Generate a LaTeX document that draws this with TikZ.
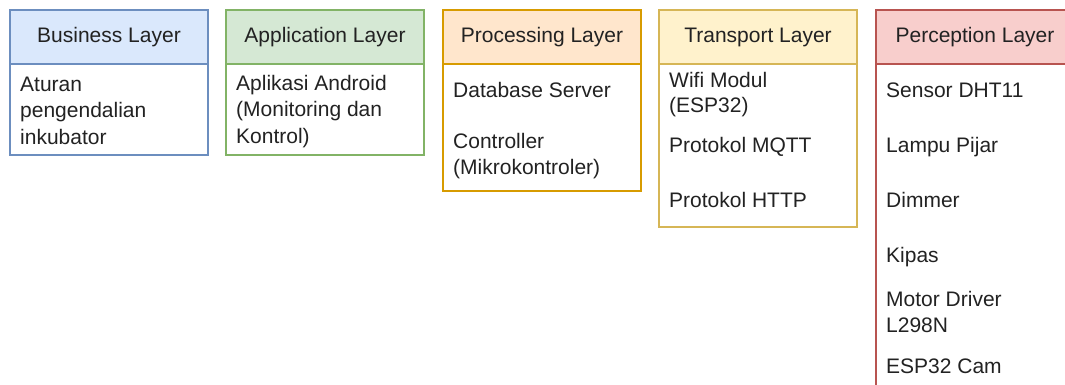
\documentclass[tikz,border=0pt]{standalone}
\usepackage{fontspec}
\setmainfont{Liberation Sans}
\definecolor{bizfill}{HTML}{DAE8FC}\definecolor{bizline}{HTML}{6C8EBF}
\definecolor{appfill}{HTML}{D5E8D4}\definecolor{appline}{HTML}{82B366}
\definecolor{procfill}{HTML}{FFE6CC}\definecolor{procline}{HTML}{D79B00}
\definecolor{tranfill}{HTML}{FFF2CC}\definecolor{tranline}{HTML}{D6B656}
\definecolor{percfill}{HTML}{F8CECC}\definecolor{percline}{HTML}{B85450}
\definecolor{ink}{HTML}{222222}
\tikzset{
  headtext/.style={font=\fontsize{21}{26}\selectfont, text=ink, anchor=base},
  itemtext/.style={font=\fontsize{21}{26}\selectfont, text=ink, anchor=base west, inner sep=0pt},
  frame/.style={line width=1.3pt},
}
% draws one layer column: #1 left x, #2 bottom y, #3 fill, #4 line, #5 title, #6 name
\newcommand{\layerbox}[6]{%
  \fill[white] (#1,10) rectangle ++(198,{#2-10});
  \fill[#3] (#1,10) rectangle ++(198,54);
  \draw[frame,#4] (#1,64) -- ++(198,0);
  \draw[frame,#4] (#1,10) rectangle ++(198,{#2-10});
  \node[headtext] (#6) at ({#1+99},43) {#5};
}
\begin{document}
\begin{tikzpicture}[x=1pt,y=-1pt]
\useasboundingbox (0,0) rectangle (1065,385);
\clip (0,0) rectangle (1065,385);

\layerbox{10}{155}{bizfill}{bizline}{Business Layer}{business}
\layerbox{226}{155}{appfill}{appline}{Application Layer}{application}
\layerbox{443}{191}{procfill}{procline}{Processing Layer}{processing}
\layerbox{659}{227}{tranfill}{tranline}{Transport Layer}{transport}
\layerbox{876}{420}{percfill}{percline}{Perception Layer}{perception}

% Business layer
\node[itemtext] (b1) at (20,92) {Aturan};
\node[itemtext] (b2) at (20,118) {pengendalian};
\node[itemtext] (b3) at (20,144) {inkubator};

% Application layer
\node[itemtext] (a1) at (236,91) {Aplikasi Android};
\node[itemtext] (a2) at (236,117) {(Monitoring dan};
\node[itemtext] (a3) at (236,143) {Kontrol)};

% Processing layer
\node[itemtext] (p1) at (453,98) {Database Server};
\node[itemtext] (p2) at (453,148) {Controller};
\node[itemtext] (p3) at (453,174) {(Mikrokontroler)};

% Transport layer
\node[itemtext] (t1) at (669,88) {Wifi Modul};
\node[itemtext] (t2) at (669,113) {(ESP32)};
\node[itemtext] (t3) at (669,152) {Protokol MQTT};
\node[itemtext] (t4) at (669,207) {Protokol HTTP};

% Perception layer
\node[itemtext] (s1) at (886,98) {Sensor DHT11};
\node[itemtext] (s2) at (886,153) {Lampu Pijar};
\node[itemtext] (s3) at (886,207) {Dimmer};
\node[itemtext] (s4) at (886,262) {Kipas};
\node[itemtext] (s5) at (886,306) {Motor Driver};
\node[itemtext] (s6) at (886,332) {L298N};
\node[itemtext] (s7) at (886,373) {ESP32 Cam};
\end{tikzpicture}
\end{document}
